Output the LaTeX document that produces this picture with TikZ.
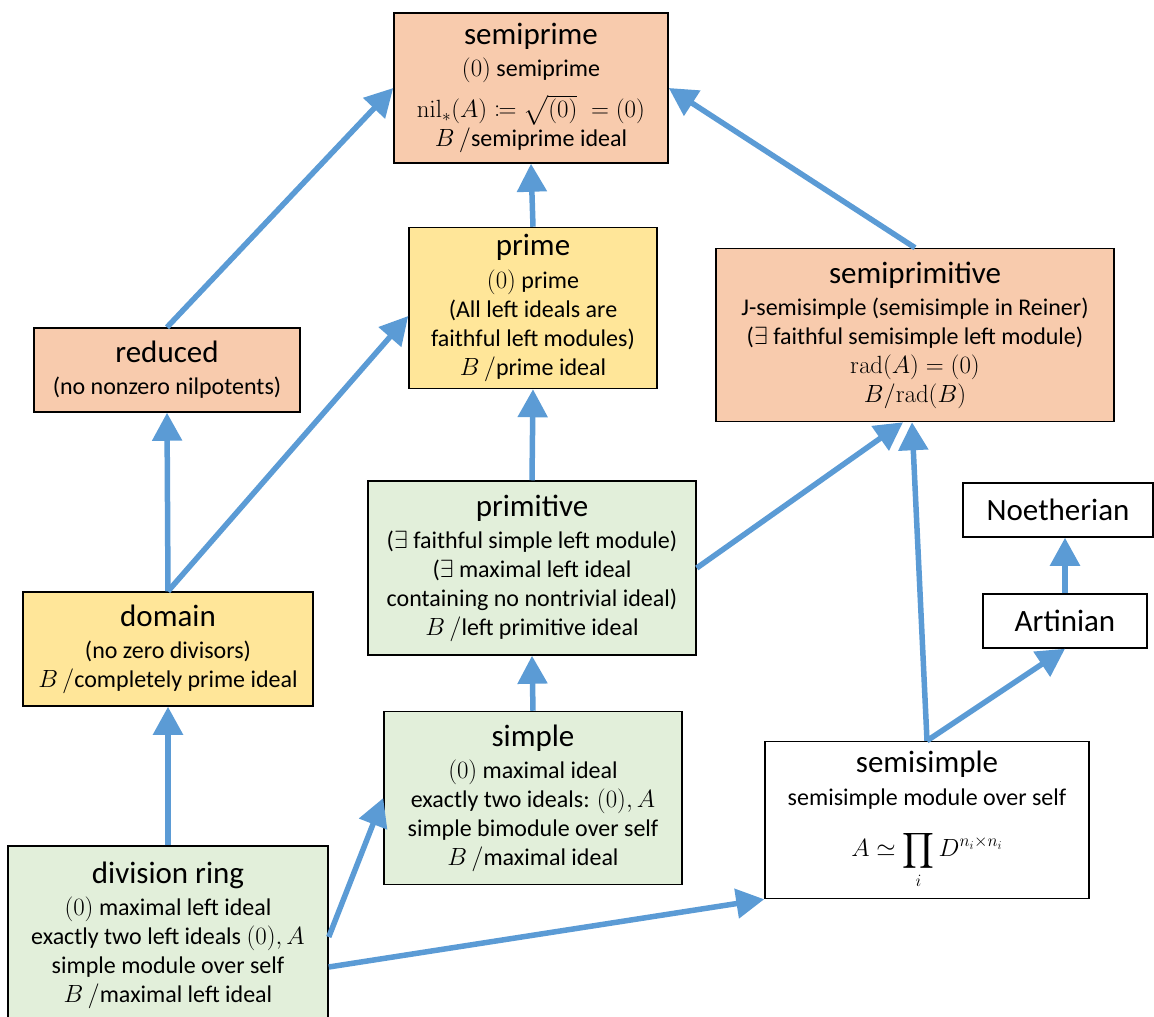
\documentclass[tikz,border=0pt]{standalone}
\usepackage{mathtools}
\usepackage[no-math]{fontspec}
\setmainfont{Carlito}
\usetikzlibrary{arrows.meta}

\definecolor{pinkfill}{HTML}{F8CBAD}
\definecolor{yellowfill}{HTML}{FFE699}
\definecolor{greenfill}{HTML}{E2EFDA}
\definecolor{arrowblue}{HTML}{5B9BD5}

\newcommand{\ttl}[1]{{\fontsize{31}{31}\selectfont #1}}

\begin{document}
\begin{tikzpicture}[x=1pt,y=-1pt,
		box/.style={draw=black, line width=1.5pt, align=center, inner sep=2pt,
			font=\fontsize{24}{29}\selectfont},
		arr/.style={-{Triangle[length=28pt,width=29pt]}, line width=5.5pt, arrowblue}]
	\clip (0,0) rectangle (1154,1017);

	% top row
	\node[box, fill=pinkfill, minimum width=274pt, minimum height=150pt] (semiprime) at (531,88)
		{\ttl{semiprime}\\[3pt] $(0)$ semiprime\\[11pt] $\mathrm{nil}_*(A)\coloneqq\sqrt{(0)}\;=(0)$\\ $B\,/$semiprime ideal};
	\node[box, fill=yellowfill, minimum width=248pt, minimum height=161pt] (prime) at (533,308)
		{\ttl{prime}\\[4pt] $(0)$ prime\\ (All left ideals are\\ faithful left modules)\\ $B\,/$prime ideal};
	\node[box, fill=pinkfill, minimum width=398pt, minimum height=173pt] (semiprimitive) at (915,335)
		{\ttl{semiprimitive}\\[3pt] J-semisimple (semisimple in Reiner)\\ ($\exists$ faithful semisimple left module)\\ $\mathrm{rad}(A)=(0)$\\ $B/\mathrm{rad}(B)$};
	\node[box, fill=pinkfill, minimum width=266pt, minimum height=84pt] (reduced) at (167,370)
		{\ttl{reduced}\\[3pt] (no nonzero nilpotents)};

	% middle row
	\node[box, fill=greenfill, minimum width=328pt, minimum height=174pt] (primitive) at (532,568)
		{\ttl{primitive}\\[3pt] ($\exists$ faithful simple left module)\\ ($\exists$ maximal left ideal\\ containing no nontrivial ideal)\\ $B\,/$left primitive ideal};
	\node[box, fill=white, minimum width=190pt, minimum height=54pt] (noetherian) at (1058,510)
		{\ttl{Noetherian}};
	\node[box, fill=white, minimum width=164pt, minimum height=54pt] (artinian) at (1065,621)
		{\ttl{Artinian}};
	\node[box, fill=yellowfill, minimum width=290pt, minimum height=114pt] (domain) at (168,649)
		{\ttl{domain}\\[3pt] (no zero divisors)\\ $B\,/$completely prime ideal};

	% bottom row
	\node[box, fill=greenfill, minimum width=298pt, minimum height=173pt] (simple) at (533,798)
		{\ttl{simple}\\[3pt] $(0)$ maximal ideal\\ exactly two ideals: $(0), A$\\ simple bimodule over self\\ $B\,/$maximal ideal};
	\node[box, fill=white, minimum width=324pt, minimum height=157pt] (semisimple) at (927,820)
		{\ttl{semisimple}\\[4pt] semisimple module over self\\[20pt] $A\simeq\displaystyle\prod_i D^{n_i\times n_i}$};
	\node[box, fill=greenfill, minimum width=320pt, minimum height=178pt] (divring) at (168,935)
		{\ttl{division ring}\\[3pt] $(0)$ maximal left ideal\\ exactly two left ideals $(0), A$\\ simple module over self\\ $B\,/$maximal left ideal};

	% implications
	\draw[arr] (reduced.north) -- (semiprime.west);
	\draw[arr] (prime.north) -- (semiprime.south);
	\draw[arr] (semiprimitive.north) -- (semiprime.east);
	\draw[arr] (domain.north) -- (reduced.south);
	\draw[arr] (domain.north) -- ([yshift=-8pt]prime.west);
	\draw[arr] (primitive.north) -- (prime.south);
	\draw[arr] (primitive.east) -- ([xshift=-12pt]semiprimitive.south);
	\draw[arr] (semisimple.north) -- ([xshift=-3pt]semiprimitive.south);
	\draw[arr] (semisimple.north) -- (artinian.south);
	\draw[arr] (artinian.north) -- (artinian.north |- noetherian.south);
	\draw[arr] (simple.north) -- (primitive.south);
	\draw[arr] (divring.north) -- (domain.south);
	\draw[arr] ([yshift=-2pt]divring.east) -- (simple.west);
	\draw[arr] ([yshift=-32pt]divring.east) -- (semisimple.south west);
\end{tikzpicture}
\end{document}
